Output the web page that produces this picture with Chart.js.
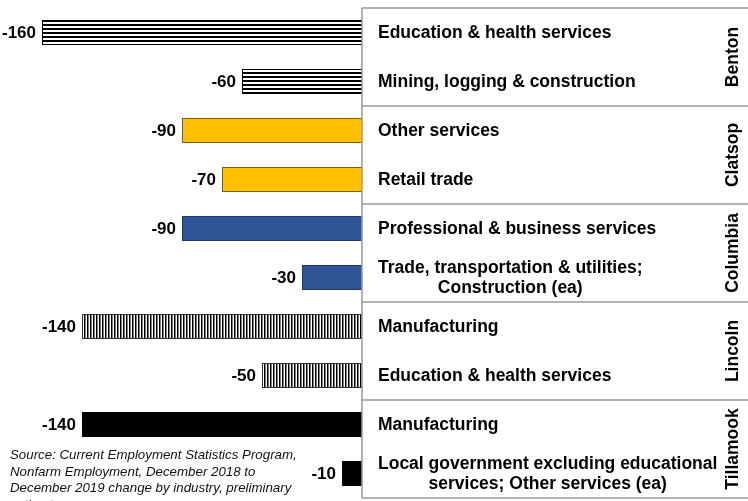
<!DOCTYPE html>
<html>
<head>
<meta charset="utf-8">
<script src="https://cdn.jsdelivr.net/npm/chart.js@4"></script>
<style>
  html, body { margin: 0; padding: 0; background: #fff; overflow: hidden; }
  #wrap { position: relative; width: 748px; height: 501px; }
  #source {
    position: absolute; left: 10px; top: 447px;
    font: italic 13.3px "Liberation Sans", Arial, sans-serif;
    line-height: 16.6px; color: #111; white-space: nowrap;
  }
</style>
</head>
<body>
<div id="wrap">
  <canvas id="chart" width="748" height="501"></canvas>
  <div id="source">Source: Current Employment Statistics Program,<br>Nonfarm Employment, December 2018 to<br>December 2019 change by industry, preliminary<br>estimates</div>
</div>
<script>
// Counties (groups), two industries each
const counties = ['Benton', 'Clatsop', 'Columbia', 'Lincoln', 'Tillamook'];
const industries = [
    ['Education & health services'],
    ['Mining, logging & construction'],
    ['Other services'],
    ['Retail trade'],
    ['Professional & business services'],
    ['Trade, transportation & utilities;', 'Construction (ea)'],
    ['Manufacturing'],
    ['Education & health services'],
    ['Manufacturing'],
    ['Local government excluding educational', 'services; Other services (ea)']
];
const changes = [-160, -60, -90, -70, -90, -30, -140, -50, -140, -10];
const countyOf = [0, 0, 1, 1, 2, 2, 3, 3, 4, 4];

const FONT = '"Liberation Sans", Arial, sans-serif';

function stripes(horizontal) {
    const c = document.createElement('canvas');
    c.width = horizontal ? 4 : 3;
    c.height = horizontal ? 4 : 3;
    const g = c.getContext('2d');
    g.fillStyle = '#fff';
    g.fillRect(0, 0, c.width, c.height);
    g.fillStyle = '#000';
    if (horizontal) g.fillRect(0, 0, 4, 2);
    else g.fillRect(0, 0, 1.5, 3);
    return document.getElementById('chart').getContext('2d').createPattern(c, 'repeat');
}

const fills = [stripes(true), '#FFC000', '#2F5597', stripes(false), '#000000'];
const edges = ['#000000', '#7F6000', '#1F3864', '#333333', '#000000'];

const tablePlugin = {
    id: 'table',
    afterDraw(chart) {
        const ctx = chart.ctx;
        const area = chart.chartArea;
        const x0 = area.right;
        const rowH = (area.bottom - area.top) / changes.length;
        ctx.save();

        // grid of the table
        ctx.strokeStyle = '#999';
        ctx.lineWidth = 1.5;
        ctx.beginPath();
        ctx.moveTo(x0, area.top);
        ctx.lineTo(x0, area.bottom);
        for (let g = 0; g <= counties.length; g++) {
            const y = area.top + g * 2 * rowH;
            ctx.moveTo(x0, y);
            ctx.lineTo(chart.width, y);
        }
        ctx.stroke();

        // industry labels
        ctx.fillStyle = '#000';
        ctx.font = 'bold 17.5px ' + FONT;
        ctx.textBaseline = 'middle';
        industries.forEach((lines, i) => {
            const cy = area.top + (i + 0.5) * rowH + 1;
            const w = Math.max(...lines.map(l => ctx.measureText(l).width));
            lines.forEach((l, k) => {
                const y = cy + (k - (lines.length - 1) / 2) * 20;
                if (lines.length === 1) {
                    ctx.textAlign = 'left';
                    ctx.fillText(l, x0 + 16, y);
                } else {
                    ctx.textAlign = 'center';
                    ctx.fillText(l, x0 + 16 + w / 2, y);
                }
            });
        });

        // county labels, rotated
        counties.forEach((name, g) => {
            const cy = area.top + (g + 0.5) * 2 * rowH;
            ctx.save();
            ctx.translate(733, cy);
            ctx.rotate(-Math.PI / 2);
            ctx.textAlign = 'center';
            ctx.fillText(name, 0, 0);
            ctx.restore();
        });

        // value labels
        ctx.font = 'bold 17px ' + FONT;
        ctx.textAlign = 'right';
        chart.getDatasetMeta(0).data.forEach((bar, i) => {
            ctx.fillText(String(changes[i]), bar.x - 6, bar.y + 1);
        });
        ctx.restore();
    }
};

new Chart(document.getElementById('chart'), {
    type: 'bar',
    data: {
        labels: industries.map(l => l.join(' ')),
        datasets: [{
            data: changes,
            backgroundColor: countyOf.map(g => fills[g]),
            borderColor: countyOf.map(g => edges[g]),
            borderWidth: 1,
            barPercentage: 0.51,
            categoryPercentage: 1
        }]
    },
    options: {
        indexAxis: 'y',
        responsive: false,
        animation: false,
        layout: { padding: { left: 42, right: 386, top: 8, bottom: 3 } },
        scales: {
            x: { display: false, min: -160, max: 0 },
            y: { display: false }
        },
        plugins: {
            legend: { display: false },
            tooltip: { enabled: false }
        }
    },
    plugins: [tablePlugin]
});
</script>
</body>
</html>
